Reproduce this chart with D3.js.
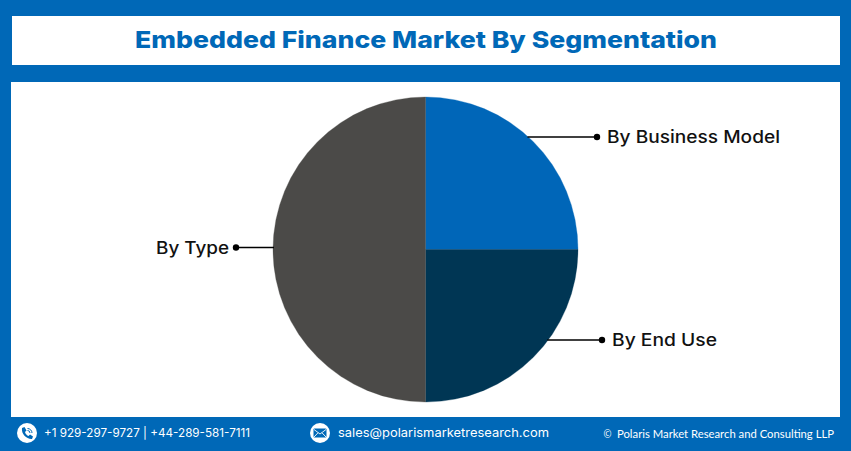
<!DOCTYPE html>
<html><head><meta charset="utf-8">
<script src="https://cdn.jsdelivr.net/npm/d3@7"></script>
<style>html,body{margin:0;padding:0;background:#fff}svg{display:block}</style>
</head><body><svg id="c" width="851" height="451"></svg>
<script>
const title = "Embedded Finance Market By Segmentation";
const categories = ["By Business Model", "By End Use", "By Type"];
const values = [25, 25, 50];
const colors = ["#0066b8", "#003654", "#4b4a48"];
const footerPhone = "+1 929-297-9727 | +44-289-581-7111";
const footerMail = "sales@polarismarketresearch.com";
const footerCopy = "Polaris Market Research and Consulting LLP";

const svg = d3.select("#c");
const blue = "#0068b7";
svg.append("rect").attr("width",851).attr("height",451).attr("fill",blue);
svg.append("rect").attr("x",12).attr("y",16).attr("width",828).attr("height",49).attr("fill","#fff");
svg.append("rect").attr("x",11).attr("y",82).attr("width",829).attr("height",335).attr("fill","#fff");

svg.append("text").attr("x",426).attr("y",48).attr("text-anchor","middle")
  .attr("font-family","Inter, 'Open Sans', sans-serif").attr("font-weight",800).attr("font-size",23.5)
  .attr("fill",blue).attr("textLength",582).attr("lengthAdjust","spacingAndGlyphs").text(title);

const cx=425.5, cy=249.5, r=152.5;
const pie=d3.pie().sort(null).value(d=>d)(values);
const arc=d3.arc().innerRadius(0).outerRadius(r);
svg.append("g").attr("transform",`translate(${cx},${cy})`).selectAll("path").data(pie).join("path")
  .attr("d",arc).attr("fill",(d,i)=>colors[i]).attr("stroke",(d,i)=>colors[i]).attr("stroke-width",0.3);

const leaders=[
 {dy:-112.5,dir:1,end:597,tx:607,ty:142.5,len:173},
 {dy:90.5,dir:1,end:602,tx:612,ty:345.5,len:105},
 {dy:-2,dir:-1,end:236,tx:229,ty:253.5,len:73}
];
leaders.forEach((l,i)=>{
  const y=cy+l.dy, x0=cx+l.dir*Math.sqrt(r*r-l.dy*l.dy)-l.dir*1;
  svg.append("line").attr("x1",x0).attr("x2",l.end).attr("y1",y).attr("y2",y).attr("stroke","#000").attr("stroke-width",1.6);
  svg.append("circle").attr("cx",l.end).attr("cy",y).attr("r",3.2).attr("fill","#000");
  svg.append("text").attr("x",l.tx).attr("y",l.ty).attr("text-anchor",l.dir>0?"start":"end")
    .attr("font-family","Inter, 'Open Sans', sans-serif").attr("font-weight",500).attr("font-size",17)
    .attr("fill","#111").attr("textLength",l.len).attr("lengthAdjust","spacingAndGlyphs").text(categories[i]);
});

function ft(x,y,t,len,fam,size,w){
  return svg.append("text").attr("x",x).attr("y",y).attr("font-family",fam).attr("font-size",size)
   .attr("font-weight",w||400).attr("fill","#fff").attr("textLength",len).attr("lengthAdjust","spacingAndGlyphs").text(t);
}
svg.append("circle").attr("cx",27).attr("cy",433).attr("r",10).attr("fill","#fff");
svg.append("path").attr("transform","translate(27,433)")
  .attr("d","M-5,-5 L-2.5,-6 L-0.5,-2.5 L-2,-1 C-1.5,1 0,2.5 1.5,3 L3,1.5 L6,3.5 L5,6 C0,6.5 -6,1 -5,-5Z").attr("fill",blue);
svg.append("path").attr("transform","translate(27,433)").attr("fill","none").attr("stroke",blue).attr("stroke-width",1)
  .attr("d","M0.5,-4.5 A4.5,4.5 0 0 1 5,0 M0.5,-2.5 A2.5,2.5 0 0 1 3,0");
ft(44,437,footerPhone,206,"Inter, sans-serif",11.5,400);

svg.append("circle").attr("cx",320).attr("cy",433).attr("r",10).attr("fill","#fff");
svg.append("rect").attr("x",313.5).attr("y",428.5).attr("width",13).attr("height",9).attr("rx",1).attr("fill",blue);
svg.append("path").attr("d","M314,429.5 L320,434 L326,429.5 M314,437 L318,432.8 M326,437 L322,432.8").attr("fill","none").attr("stroke","#fff").attr("stroke-width",.9);
ft(338,437,footerMail,211,"Inter, sans-serif",12,400);

ft(603.5,437.5,"©",8,"'Open Sans', sans-serif",10,400);
ft(617,437.5,footerCopy,217,"Lato, sans-serif",11.5,400);
</script></body></html>
